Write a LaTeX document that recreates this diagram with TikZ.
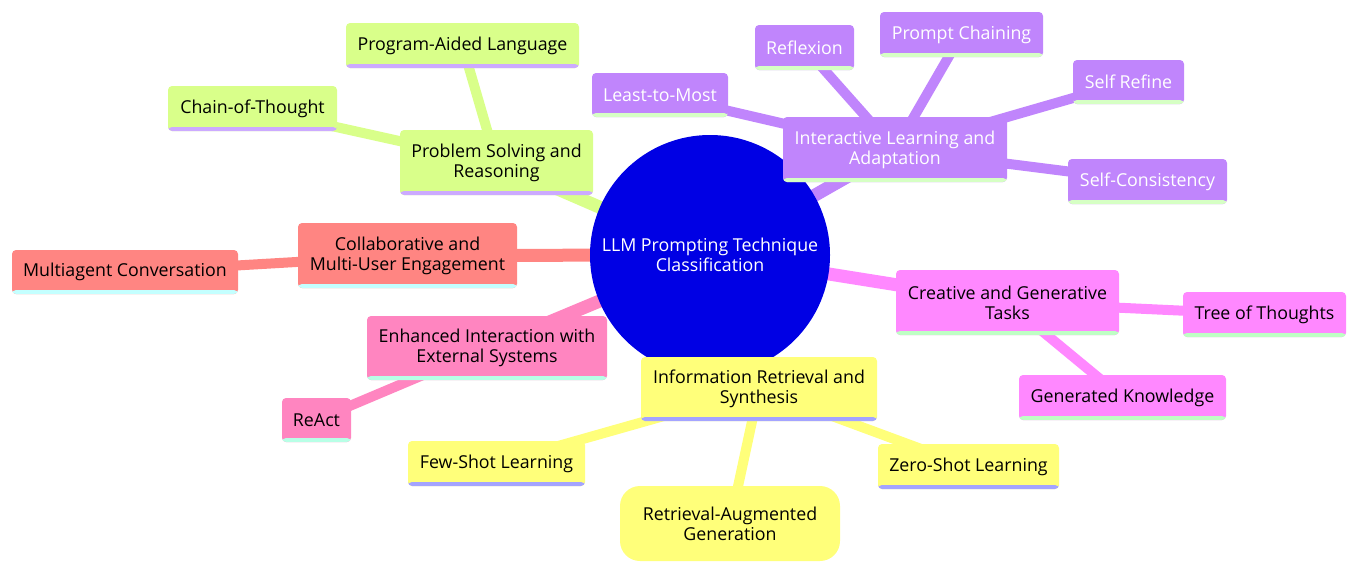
\documentclass[tikz,border=0pt]{standalone}
\usepackage{fontspec}
\setmainfont{Open Sans}
\usetikzlibrary{backgrounds}

\definecolor{rootblue}{RGB}{0,0,228}
\definecolor{secgreen}{RGB}{217,255,138}
\definecolor{strgreen}{RGB}{204,170,255}
\definecolor{secpurple}{RGB}{192,133,252}
\definecolor{strpurple}{RGB}{214,255,196}
\definecolor{secsalmon}{RGB}{255,133,130}
\definecolor{strsalmon}{RGB}{196,255,255}
\definecolor{secpink}{RGB}{255,133,192}
\definecolor{strpink}{RGB}{184,255,230}
\definecolor{secyellow}{RGB}{255,255,122}
\definecolor{stryellow}{RGB}{164,164,255}
\definecolor{secmagenta}{RGB}{255,136,255}
\definecolor{strmagenta}{RGB}{190,255,196}

\tikzset{
	mmbox/.style 2 args={fill=#1, rounded corners=4pt, inner sep=0pt, align=center,
		font=\fontsize{17.8}{20}\selectfont,
		path picture={\fill[#2] ([yshift=4pt]path picture bounding box.south west) rectangle (path picture bounding box.south east);}},
	edge/.style={line width=10pt, draw=#1},
	rootedge/.style={line width=13pt, draw=#1},
}

\begin{document}
\begin{tikzpicture}[x=1pt,y=-1pt]

	\useasboundingbox (0,0) rectangle (1358,574);

	% root
	\node[circle, fill=rootblue, text=white, minimum size=240pt, inner sep=0pt, align=center,
		font=\fontsize{17.8}{20}\selectfont] (root) at (710,255) {LLM Prompting Technique\\Classification};

	% problem solving
	\node[mmbox={secgreen}{strgreen}, minimum width=193pt, minimum height=65pt] (ps) at (496.5,162.5) {Problem Solving and\\Reasoning};
	\node[mmbox={secgreen}{strgreen}, minimum width=233pt, minimum height=45pt] (pal) at (462.5,45.5) {Program-Aided Language};
	\node[mmbox={secgreen}{strgreen}, minimum width=169pt, minimum height=45pt] (cot) at (252.5,108.5) {Chain-of-Thought};

	% interactive learning
	\node[mmbox={secpurple}{strpurple}, text=white, minimum width=224pt, minimum height=65pt] (ila) at (895,149.5) {Interactive Learning and\\Adaptation};
	\node[mmbox={secpurple}{strpurple}, text=white, minimum width=99pt, minimum height=45pt] (refl) at (804.5,47.5) {Reflexion};
	\node[mmbox={secpurple}{strpurple}, text=white, minimum width=163pt, minimum height=45pt] (chain) at (961.5,34.5) {Prompt Chaining};
	\node[mmbox={secpurple}{strpurple}, text=white, minimum width=136pt, minimum height=44pt] (ltm) at (660,95) {Least-to-Most};
	\node[mmbox={secpurple}{strpurple}, text=white, minimum width=111pt, minimum height=44pt] (sr) at (1128.5,82) {Self Refine};
	\node[mmbox={secpurple}{strpurple}, text=white, minimum width=159pt, minimum height=45pt] (sc) at (1147.5,181.5) {Self-Consistency};

	% collaborative
	\node[mmbox={secsalmon}{strsalmon}, minimum width=219pt, minimum height=65pt] (collab) at (407.5,255.5) {Collaborative and\\Multi-User Engagement};
	\node[mmbox={secsalmon}{strsalmon}, minimum width=226pt, minimum height=44pt] (mac) at (125,272) {Multiagent Conversation};

	% external systems
	\node[mmbox={secpink}{strpink}, minimum width=240pt, minimum height=64pt] (ext) at (487,348) {Enhanced Interaction with\\External Systems};
	\node[mmbox={secpink}{strpink}, minimum width=69pt, minimum height=44pt] (react) at (316.5,420) {ReAct};

	% information retrieval
	\node[mmbox={secyellow}{stryellow}, minimum width=236pt, minimum height=64pt] (irs) at (759,389) {Information Retrieval and\\Synthesis};
	\node[mmbox={secyellow}{stryellow}, minimum width=177pt, minimum height=45pt] (fsl) at (496.5,463.5) {Few-Shot Learning};
	\node[mmbox={secyellow}{stryellow}, minimum width=181pt, minimum height=45pt] (zsl) at (968.5,466.5) {Zero-Shot Learning};
	\node[fill=secyellow, rounded corners=20pt, inner sep=0pt, align=center, font=\fontsize{17.8}{20}\selectfont,
		minimum width=220pt, minimum height=75pt] (rag) at (730,523.5) {Retrieval-Augmented\\Generation};

	% creative
	\node[mmbox={secmagenta}{strmagenta}, minimum width=223pt, minimum height=65pt] (cgt) at (1007.5,302.5) {Creative and Generative\\Tasks};
	\node[mmbox={secmagenta}{strmagenta}, minimum width=163pt, minimum height=45pt] (tot) at (1264.5,314.5) {Tree of Thoughts};
	\node[mmbox={secmagenta}{strmagenta}, minimum width=207pt, minimum height=45pt] (gk) at (1122.5,397.5) {Generated Knowledge};

	\begin{scope}[on background layer]
		\draw[rootedge=secgreen] (root.center) -- (ps.center);
		\draw[rootedge=secpurple] (root.center) -- (ila.center);
		\draw[rootedge=secsalmon] (root.center) -- (collab.center);
		\draw[rootedge=secpink] (root.center) -- (ext.center);
		\draw[rootedge=secyellow] (root.center) -- (irs.center);
		\draw[rootedge=secmagenta] (root.center) -- (cgt.center);

		\draw[edge=secgreen] (ps.center) -- (pal.center);
		\draw[edge=secgreen] (ps.center) -- (cot.center);

		\draw[edge=secpurple] (ila.center) -- (refl.center);
		\draw[edge=secpurple] (ila.center) -- (chain.center);
		\draw[edge=secpurple] (ila.center) -- (ltm.center);
		\draw[edge=secpurple] (ila.center) -- (sr.center);
		\draw[edge=secpurple] (ila.center) -- (sc.center);

		\draw[edge=secsalmon] (collab.center) -- (mac.center);

		\draw[edge=secpink] (ext.center) -- (react.center);

		\draw[edge=secyellow] (irs.center) -- (fsl.center);
		\draw[edge=secyellow] (irs.center) -- (zsl.center);
		\draw[edge=secyellow] (irs.center) -- (rag.center);

		\draw[edge=secmagenta] (cgt.center) -- (tot.center);
		\draw[edge=secmagenta] (cgt.center) -- (gk.center);
	\end{scope}

\end{tikzpicture}
\end{document}
